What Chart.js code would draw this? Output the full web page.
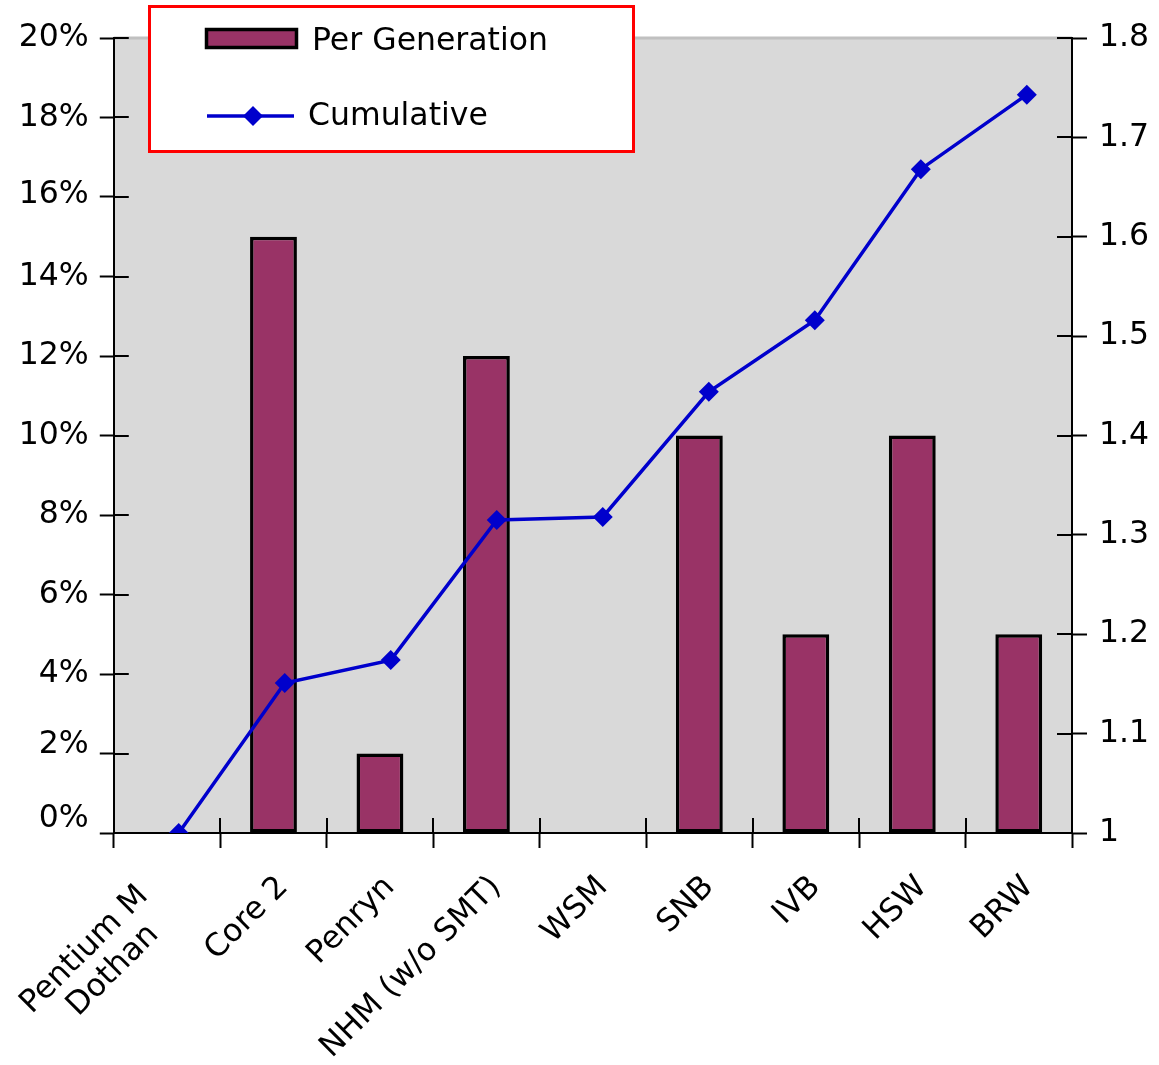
<!DOCTYPE html>
<html>
<head>
<meta charset="utf-8">
<style>
  html, body { margin: 0; padding: 0; background: #ffffff; }
  #wrap { width: 1159px; height: 1065px; }
</style>
<script src="https://cdn.jsdelivr.net/npm/chart.js@4/dist/chart.umd.min.js"></script>
</head>
<body>
<div id="wrap"><canvas id="c" width="1159" height="1065"></canvas></div>
<script>
// Processor generations on the category axis
const categories = [
  ['Pentium M   ', 'Dothan     '],
  'Core 2',
  'Penryn',
  'NHM (w/o SMT)',
  'WSM',
  'SNB',
  'IVB',
  'HSW',
  'BRW'
];

// Improvement per generation, in percent (left axis)
const perGeneration = [0, 15, 2, 12, 0, 10, 5, 10, 5];

// Cumulative improvement factor (right axis)
const cumulative = [1, 1.151, 1.174, 1.315, 1.318, 1.444, 1.516, 1.668, 1.743];

// Axis ranges and tick steps
const leftAxis = { min: 0, max: 20, step: 2 };
const rightAxis = { min: 1, max: 1.8, step: 0.1 };

const FONT = 'DejaVu Sans';
const FONT_SIZE = 31.5;
const BAR_COLOR = '#993366';
const LINE_COLOR = '#0000cc';

// Plot background, grey top edge of the frame, and label fine-tuning
const plotBackground = {
  id: 'plotBackground',
  beforeDraw(chart) {
    const { ctx, chartArea: a } = chart;
    ctx.save();
    ctx.fillStyle = '#d9d9d9';
    ctx.fillRect(a.left, a.top, a.right - a.left, a.bottom - a.top);
    ctx.strokeStyle = '#c0c0c0';
    ctx.lineWidth = 3;
    ctx.beginPath();
    ctx.moveTo(a.left, a.top);
    ctx.lineTo(a.right, a.top);
    ctx.stroke();
    ctx.restore();

    // small vertical nudges of the lowest percent labels
    const nudge = { 0: -14, 2: -9, 16: -2 };
    const y = chart.scales.y;
    y.getLabelItems().forEach((item, i) => {
      const v = y.ticks[i] && y.ticks[i].value;
      if (nudge[v] && !item._nudged) {
        item.options.translation[1] += nudge[v];
        item._nudged = true;
      }
    });

    // centre multi-line category labels on their anchor
    const x = chart.scales.x;
    x.getLabelItems().forEach(item => {
      if (Array.isArray(item.label) && !item._nudged) {
        item.textOffset -= (item.label.length - 1) * item.font.lineHeight / 2;
        item._nudged = true;
      }
    });
  }
};

// Tick marks that also reach into the plot area (crossing ticks)
const innerTicks = {
  id: 'innerTicks',
  afterDatasetsDraw(chart) {
    const { ctx, chartArea: a, scales } = chart;
    const len = 15;
    ctx.save();
    ctx.strokeStyle = '#000';
    ctx.lineWidth = 2;
    ctx.beginPath();
    const y = scales.y;
    y.ticks.forEach((t, i) => {
      const p = Math.round(y.getPixelForTick(i));
      ctx.moveTo(a.left, p); ctx.lineTo(a.left + len, p);
    });
    const y1 = scales.y1;
    y1.ticks.forEach((t, i) => {
      const p = Math.round(y1.getPixelForTick(i));
      ctx.moveTo(a.right - len, p); ctx.lineTo(a.right, p);
    });
    const x = scales.x;
    const n = x.ticks.length;
    const half = (x.getPixelForTick(1) - x.getPixelForTick(0)) / 2;
    for (let i = 0; i <= n; i++) {
      const p = Math.round(i < n ? x.getPixelForTick(i) - half : x.getPixelForTick(n - 1) + half);
      ctx.moveTo(p, a.bottom - len); ctx.lineTo(p, a.bottom);
    }
    ctx.stroke();
    ctx.restore();
  }
};

// Boxed legend in the upper left, over the plot frame
const boxedLegend = {
  id: 'boxedLegend',
  afterDraw(chart) {
    const { ctx } = chart;
    const ds = chart.data.datasets;
    ctx.save();
    ctx.fillStyle = '#ffffff';
    ctx.fillRect(149.5, 6.5, 484, 145);
    ctx.strokeStyle = '#ff0000';
    ctx.lineWidth = 3;
    ctx.strokeRect(149.5, 6.5, 484, 145);

    // bar swatch
    ctx.fillStyle = BAR_COLOR;
    ctx.fillRect(206.5, 29.5, 90, 18);
    ctx.strokeStyle = '#000';
    ctx.lineWidth = 3.5;
    ctx.strokeRect(206.5, 29.5, 90, 18);

    // line swatch with diamond marker
    ctx.strokeStyle = LINE_COLOR;
    ctx.lineWidth = 3.5;
    ctx.beginPath();
    ctx.moveTo(207, 116); ctx.lineTo(294, 116);
    ctx.stroke();
    ctx.fillStyle = LINE_COLOR;
    ctx.beginPath();
    ctx.moveTo(253, 106); ctx.lineTo(263, 116); ctx.lineTo(253, 126); ctx.lineTo(243, 116);
    ctx.closePath();
    ctx.fill();

    ctx.fillStyle = '#000';
    ctx.font = FONT_SIZE + 'px "' + FONT + '"';
    ctx.textBaseline = 'alphabetic';
    ctx.textAlign = 'left';
    ctx.fillText(ds[0].label, 312, 50);
    ctx.fillText(ds[1].label, 308, 125);
    ctx.restore();
  }
};

const lineSeries = cumulative.map((v, i) => ({ x: i, y: v }));

new Chart(document.getElementById('c'), {
  type: 'bar',
  data: {
    labels: categories,
    datasets: [
      {
        type: 'bar',
        label: 'Per Generation',
        data: perGeneration,
        backgroundColor: BAR_COLOR,
        borderColor: '#000000',
        borderWidth: 3.5,
        borderSkipped: false,
        grouped: false,
        barPercentage: 0.44,
        categoryPercentage: 1.0,
        xAxisID: 'x',
        yAxisID: 'y',
        order: 2
      },
      {
        type: 'line',
        label: 'Cumulative',
        data: lineSeries,
        borderColor: LINE_COLOR,
        backgroundColor: LINE_COLOR,
        borderWidth: 3.5,
        pointStyle: 'rectRot',
        pointRadius: 10,
        pointHoverRadius: 10,
        pointBorderWidth: 0,
        tension: 0,
        xAxisID: 'x2',
        yAxisID: 'y1',
        order: 1
      }
    ]
  },
  options: {
    responsive: false,
    animation: false,
    events: [],
    layout: { padding: { top: 38, left: 0, right: 0, bottom: 0 } },
    plugins: {
      legend: { display: false },
      tooltip: { enabled: false },
      title: { display: false }
    },
    scales: {
      x: {
        type: 'category',
        offset: true,
        grid: {
          offset: true,
          drawOnChartArea: false,
          drawTicks: true,
          tickLength: 15,
          tickWidth: 2,
          color: '#000'
        },
        border: { display: true, color: '#000', width: 2 },
        ticks: {
          color: '#000',
          font: { family: FONT, size: FONT_SIZE, lineHeight: 1.1 },
          minRotation: 45,
          maxRotation: 45,
          autoSkip: false,
          padding: 22,
          labelOffset: 10
        },
        afterFit(scale) { scale.height = 232; }
      },
      x2: {
        type: 'linear',
        display: false,
        offset: false,
        grid: { offset: false },
        min: -0.6126,
        max: 8.426
      },
      y: {
        type: 'linear',
        position: 'left',
        min: leftAxis.min,
        max: leftAxis.max,
        grid: {
          drawOnChartArea: false,
          drawTicks: true,
          tickLength: 14,
          tickWidth: 2,
          color: '#000'
        },
        border: { display: true, color: '#000', width: 2 },
        ticks: {
          stepSize: leftAxis.step,
          color: '#000',
          font: { family: FONT, size: FONT_SIZE },
          padding: 11,
          callback: v => v + '%'
        },
        afterFit(scale) { scale.width = 113; }
      },
      y1: {
        type: 'linear',
        position: 'right',
        min: rightAxis.min,
        max: rightAxis.max,
        grid: {
          drawOnChartArea: false,
          drawTicks: true,
          tickLength: 15,
          tickWidth: 2,
          color: '#000'
        },
        border: { display: true, color: '#000', width: 2 },
        ticks: {
          stepSize: rightAxis.step,
          color: '#000',
          font: { family: FONT, size: FONT_SIZE },
          padding: 12,
          callback: v => String(Number(v.toFixed(1)))
        },
        afterFit(scale) { scale.width = 87; }
      }
    }
  },
  plugins: [plotBackground, innerTicks, boxedLegend]
});
</script>
</body>
</html>
